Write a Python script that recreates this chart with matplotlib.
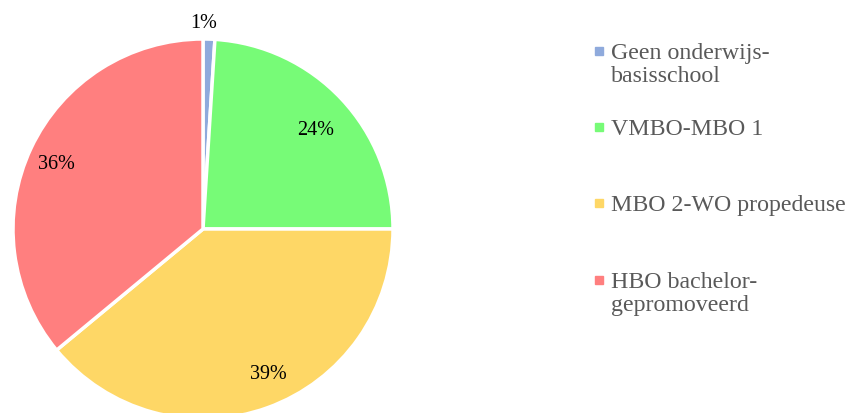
import numpy as np
import matplotlib.pyplot as plt
from matplotlib.patches import Rectangle

# Education level shares (%)
categories = ['Geen onderwijs-\nbasisschool', 'VMBO-MBO 1', 'MBO 2-WO propedeuse', 'HBO bachelor-\ngepromoveerd']
shares = [1, 24, 39, 36]
colors = ['#8faadc', '#77fb77', '#fed766', '#ff7f7f']

plt.rcParams['font.family'] = ['Liberation Serif', 'DejaVu Serif']

W, H = 848, 414
fig = plt.figure(figsize=(W / 100, H / 100), dpi=100)

# pie axes: center (203, 230) px, radius 190 px
cx, cy, r = 203, 230, 190
ax = fig.add_axes([(cx - r) / W, (H - cy - r) / H, 2 * r / W, 2 * r / H])
wedges, texts = ax.pie(shares, colors=colors, startangle=90, counterclock=False,
                       wedgeprops={'edgecolor': 'white', 'linewidth': 2.5})
ax.set_xlim(-1, 1)
ax.set_ylim(-1, 1)
ax.set_aspect('equal')

# percentage labels (small nudges to match the original placement)
nudge = [(-0.03, 0.0), (0.0, -0.03), (0.07, 0.0), (-0.04, 0.0)]
angle = 90
for val, (dx, dy) in zip(shares, nudge):
    mid = np.deg2rad(angle - val * 3.6 / 2)
    dist = 1.09 if val < 5 else 0.81
    ax.text(dist * np.cos(mid) + dx, dist * np.sin(mid) + dy, f'{val}%', ha='center', va='center',
            fontsize=14.5, color='black')
    angle -= val * 3.6

# legend, drawn by hand
marker_y = [52, 128, 204, 281]
for lab, col, y in zip(categories, colors, marker_y):
    fig.patches.append(Rectangle(((599 - 4) / W, (H - y - 4) / H), 8 / W, 8 / H,
                                 transform=fig.transFigure, color=col))
    fig.text(611 / W, (H - y + 8.5) / H, lab, ha='left', va='top', fontsize=17.2,
             color='#595959', linespacing=1.12)

fig.savefig('out.png', dpi=100)
